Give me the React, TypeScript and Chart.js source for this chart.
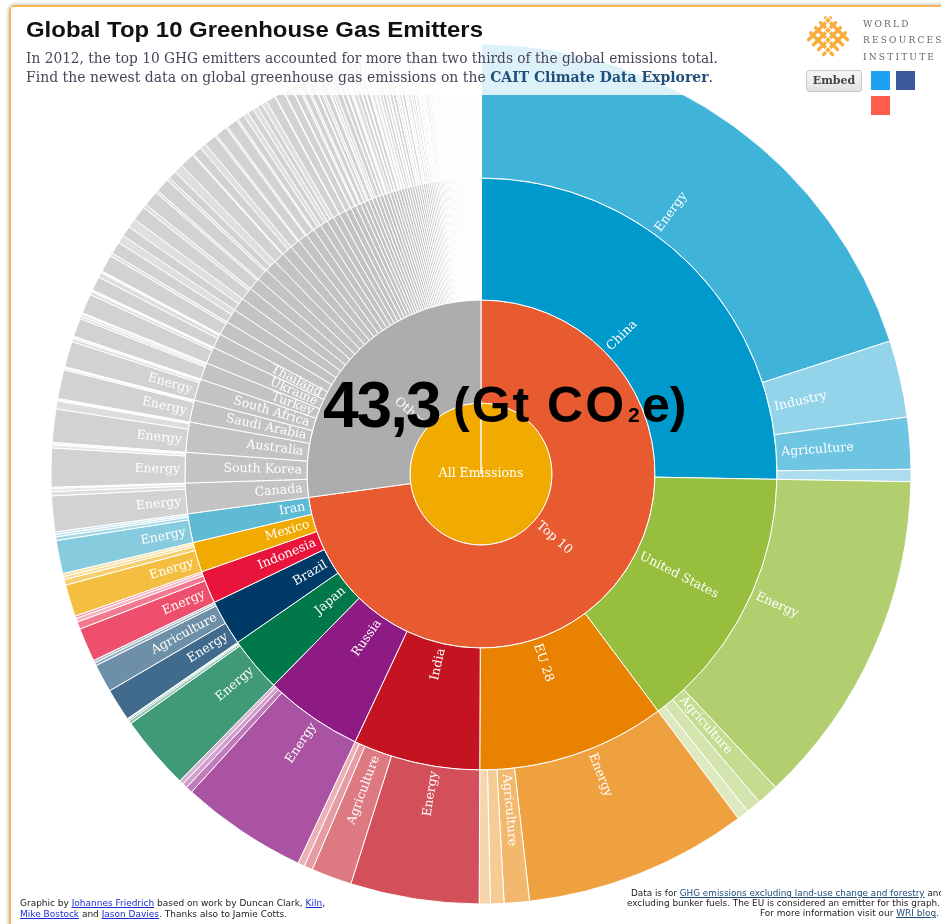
import React, { useEffect, useLayoutEffect, useRef } from "react";
import { Chart, registerables } from "chart.js";

Chart.register(...registerables);

// ---------------- DATA (Gt CO2e, 2012) ----------------
const topCountries = ["China", "United States", "EU 28", "India", "Russia", "Japan", "Brazil", "Indonesia", "Mexico", "Iran"];
const topColors = ["#0099cc", "#97bf3d", "#e98200", "#c41421", "#8e1a84", "#00784a", "#003a66", "#e8143c", "#f0aa00", "#5fbad4"];
const topSectors: [string, number][][] = [
  [["Energy", 8.66], ["Industry", 1.25], ["Agriculture", 0.84], ["Waste", 0.2]],
  [["Energy", 5.5], ["Agriculture", 0.35], ["Industry", 0.24], ["Waste", 0.19]],
  [["Energy", 3.64], ["Agriculture", 0.41], ["Industry", 0.22], ["Waste", 0.18]],
  [["Energy", 2.09], ["Agriculture", 0.66], ["Industry", 0.14], ["Waste", 0.11]],
  [["Energy", 2.06], ["Agriculture", 0.11], ["Industry", 0.08], ["Waste", 0.07]],
  [["Energy", 1.21], ["Industry", 0.05], ["Agriculture", 0.025], ["Waste", 0.02]],
  [["Energy", 0.53], ["Agriculture", 0.46], ["Industry", 0.05], ["Waste", 0.04]],
  [["Energy", 0.55], ["Agriculture", 0.12], ["Waste", 0.06], ["Industry", 0.04]],
  [["Energy", 0.52], ["Agriculture", 0.09], ["Industry", 0.05], ["Waste", 0.05]],
  [["Energy", 0.54], ["Agriculture", 0.06], ["Industry", 0.04], ["Waste", 0.04]],
];

const otherNamed = ["Canada", "South Korea", "Australia", "Saudi Arabia", "South Africa", "Turkey", "Ukraine", "Thailand"];
const otherNamedSectors: [string, number][][] = [
  [["Energy", 0.58], ["Agriculture", 0.07], ["Industry", 0.05], ["Waste", 0.02]],
  [["Energy", 0.63], ["Industry", 0.05], ["Agriculture", 0.02], ["Waste", 0.02]],
  [["Energy", 0.54], ["Agriculture", 0.13], ["Industry", 0.02], ["Waste", 0.02]],
  [["Energy", 0.47], ["Industry", 0.03], ["Waste", 0.015], ["Agriculture", 0.005]],
  [["Energy", 0.42], ["Agriculture", 0.05], ["Industry", 0.025], ["Waste", 0.015]],
  [["Energy", 0.3], ["Agriculture", 0.04], ["Industry", 0.04], ["Waste", 0.02]],
  [["Energy", 0.32], ["Agriculture", 0.05], ["Industry", 0.02], ["Waste", 0.01]],
  [["Energy", 0.23], ["Agriculture", 0.08], ["Industry", 0.02], ["Waste", 0.01]],
];

// [country, energy, other sectors]
const smallCountries: [string, number, number][] = [
  ["Kazakhstan", 0.28, 0.05], ["Argentina", 0.2, 0.13], ["Pakistan", 0.17, 0.15], ["Egypt", 0.24, 0.06],
  ["Malaysia", 0.25, 0.04], ["Venezuela", 0.23, 0.05], ["Nigeria", 0.13, 0.15], ["United Arab Emirates", 0.24, 0.02],
  ["Vietnam", 0.15, 0.1], ["Uzbekistan", 0.2, 0.03], ["Algeria", 0.19, 0.03], ["Iraq", 0.18, 0.03],
  ["Philippines", 0.11, 0.08], ["Colombia", 0.1, 0.08], ["Bangladesh", 0.08, 0.09], ["Kuwait", 0.15, 0.01],
  ["Qatar", 0.15, 0.01], ["Turkmenistan", 0.13, 0.01], ["Chile", 0.1, 0.03], ["Belarus", 0.09, 0.03],
  ["Libya", 0.09, 0.01], ["Peru", 0.06, 0.04], ["Israel", 0.08, 0.015], ["New Zealand", 0.035, 0.055],
  ["Oman", 0.085, 0.005], ["Syria", 0.07, 0.015], ["Morocco", 0.06, 0.025], ["Ethiopia", 0.01, 0.07],
  ["Serbia", 0.06, 0.015], ["Norway", 0.055, 0.015], ["North Korea", 0.06, 0.01], ["Myanmar", 0.02, 0.048],
  ["Sudan", 0.02, 0.046], ["Tanzania", 0.01, 0.054], ["Switzerland", 0.05, 0.012], ["Ecuador", 0.04, 0.02],
  ["Azerbaijan", 0.05, 0.008], ["Singapore", 0.052, 0.004], ["Angola", 0.03, 0.024], ["Cuba", 0.035, 0.017],
  ["Trinidad and Tobago", 0.045, 0.005], ["Bolivia", 0.02, 0.028], ["DR Congo", 0.005, 0.042], ["Kenya", 0.012, 0.033],
  ["Tunisia", 0.033, 0.01], ["Paraguay", 0.006, 0.035], ["Mongolia", 0.02, 0.019], ["Dominican Republic", 0.025, 0.012],
  ["Sri Lanka", 0.018, 0.017], ["Uruguay", 0.008, 0.026], ["Bahrain", 0.028, 0.002], ["Bosnia and Herzegovina", 0.024, 0.005],
  ["Jordan", 0.024, 0.004], ["Yemen", 0.022, 0.005], ["Zimbabwe", 0.013, 0.014], ["Guatemala", 0.013, 0.013],
  ["Cameroon", 0.007, 0.019], ["Ghana", 0.012, 0.013], ["Lebanon", 0.021, 0.003], ["Côte d'Ivoire", 0.009, 0.014],
  ["Mozambique", 0.005, 0.017], ["Uganda", 0.004, 0.018], ["Nepal", 0.005, 0.016], ["Zambia", 0.004, 0.017],
  ["Madagascar", 0.003, 0.017], ["Mali", 0.002, 0.018], ["Chad", 0.001, 0.018], ["Niger", 0.002, 0.017],
  ["Burkina Faso", 0.002, 0.016], ["Afghanistan", 0.008, 0.01], ["Honduras", 0.008, 0.009], ["Senegal", 0.007, 0.01],
  ["Cambodia", 0.005, 0.011], ["Gabon", 0.01, 0.006], ["Botswana", 0.008, 0.007], ["Panama", 0.01, 0.005],
  ["Costa Rica", 0.008, 0.006], ["Brunei", 0.013, 0.001], ["El Salvador", 0.007, 0.006], ["Namibia", 0.004, 0.009],
  ["Nicaragua", 0.005, 0.007], ["Georgia", 0.008, 0.004], ["Kyrgyzstan", 0.008, 0.004], ["Tajikistan", 0.006, 0.005],
  ["Jamaica", 0.009, 0.002], ["Armenia", 0.007, 0.004], ["Laos", 0.003, 0.007], ["Papua New Guinea", 0.006, 0.004],
  ["Rwanda", 0.001, 0.009], ["Benin", 0.004, 0.006], ["Moldova", 0.006, 0.003], ["Macedonia", 0.007, 0.002],
  ["Albania", 0.004, 0.005], ["Guinea", 0.002, 0.007], ["Malawi", 0.001, 0.008], ["Haiti", 0.003, 0.006],
  ["Somalia", 0.001, 0.008], ["Togo", 0.002, 0.006], ["Mauritania", 0.002, 0.006], ["Congo", 0.004, 0.004],
  ["Equatorial Guinea", 0.01, 0.002], ["Eritrea", 0.003, 0.005], ["Burundi", 0.001, 0.007], ["Sierra Leone", 0.002, 0.006],
  ["Liberia", 0.002, 0.005], ["Central African Republic", 0.001, 0.006], ["Montenegro", 0.005, 0.002], ["Guyana", 0.003, 0.004],
  ["Swaziland", 0.002, 0.004], ["Lesotho", 0.002, 0.004], ["Suriname", 0.004, 0.002], ["Fiji", 0.003, 0.003],
  ["Mauritius", 0.005, 0.001], ["Iceland", 0.004, 0.002], ["Bahamas", 0.004, 0.001], ["Barbados", 0.004, 0.001],
  ["Gambia", 0.001, 0.004], ["Bhutan", 0.002, 0.003], ["Djibouti", 0.002, 0.003], ["Guinea-Bissau", 0.001, 0.004],
  ["Timor-Leste", 0.002, 0.002], ["Belize", 0.002, 0.002], ["Maldives", 0.003, 0.001], ["Solomon Islands", 0.002, 0.001],
  ["Cabo Verde", 0.002, 0.001], ["Comoros", 0.001, 0.002], ["Seychelles", 0.002, 0.001], ["Samoa", 0.001, 0.001],
  ["Vanuatu", 0.001, 0.001], ["Antigua and Barbuda", 0.0015, 0.0005], ["Saint Lucia", 0.0015, 0.0005], ["Grenada", 0.0015, 0.0005],
  ["Tonga", 0.001, 0.001], ["São Tomé and Príncipe", 0.001, 0.001], ["Dominica", 0.0007, 0.0003], ["Saint Kitts and Nevis", 0.0007, 0.0003],
  ["Saint Vincent", 0.0007, 0.0003], ["Kiribati", 0.0007, 0.0003], ["Micronesia", 0.0007, 0.0003], ["Palau", 0.0007, 0.0003],
  ["Marshall Islands", 0.0007, 0.0003], ["Tuvalu", 0.0004, 0.0001], ["Nauru", 0.0004, 0.0001], ["Niue", 0.0002, 0.0001],
  ["Cook Islands", 0.0002, 0.0001],
];

const rootLabel = "All Emissions";
const groupLabels = ["Top 10", "Other"];

// ---------------- STYLE ----------------
const allColor = "#f0aa00";
const groupColors = ["#e85b30", "#adadad"];
const otherGrey = "#c3c3c3";
const sectorTint: Record<string, number> = { Energy: 0.25, Industry: 0.58, Agriculture: 0.43, Waste: 0.67, "Other sectors": 0.47 };

function tint(hex: string, t: number) {
  const n = parseInt(hex.slice(1), 16);
  const f = (c: number) => Math.round(c + (255 - c) * t);
  return `rgb(${f((n >> 16) & 255)},${f((n >> 8) & 255)},${f(n & 255)})`;
}

const MIN_LABEL_ANGLE = (2.79 * Math.PI) / 180;

const labelPlugin = {
  id: "sunLabels",
  afterDatasetsDraw(chart: any) {
    const ctx = chart.ctx;
    chart.data.datasets.forEach((ds: any, di: number) => {
      const meta = chart.getDatasetMeta(di);
      const names: (string | null)[] = ds.arcLabels || [];
      meta.data.forEach((arc: any, i: number) => {
        const name = names[i];
        if (!name) return;
        const p = arc.getProps(["x", "y", "startAngle", "endAngle", "innerRadius", "outerRadius"], true);
        ctx.save();
        ctx.fillStyle = "#ffffff";
        ctx.font = '12.5px "DejaVu Serif", Georgia, serif';
        ctx.textBaseline = "middle";
        if (p.innerRadius < 1) {
          ctx.textAlign = "center";
          ctx.fillText(name, p.x, p.y);
          ctx.restore();
          return;
        }
        if (p.endAngle - p.startAngle < MIN_LABEL_ANGLE) {
          ctx.restore();
          return;
        }
        const mid = (p.startAngle + p.endAngle) / 2;
        ctx.translate(p.x, p.y);
        if (Math.cos(mid) >= 0) {
          ctx.rotate(mid);
          ctx.textAlign = "left";
          ctx.fillText(name, p.innerRadius + 5, 0);
        } else {
          ctx.rotate(mid + Math.PI);
          ctx.textAlign = "right";
          ctx.fillText(name, -(p.innerRadius + 5), 0);
        }
        ctx.restore();
      });
    });
  },
};

function Fit(props: { x: number; y: number; w: number; style?: any; children: any }) {
  const ref = useRef<HTMLDivElement>(null);
  useLayoutEffect(() => {
    const el = ref.current;
    if (!el) return;
    el.style.transform = "none";
    const actual = el.getBoundingClientRect().width;
    if (actual > 0) el.style.transform = `scaleX(${props.w / actual})`;
  });
  return (
    <div
      ref={ref}
      style={{
        position: "absolute",
        left: props.x,
        top: props.y,
        whiteSpace: "nowrap",
        transformOrigin: "0 0",
        ...props.style,
      }}
    >
      {props.children}
    </div>
  );
}

function Sunburst() {
  const canvasRef = useRef<HTMLCanvasElement>(null);
  useEffect(() => {
    const outerData: number[] = [];
    const outerColors: string[] = [];
    const outerLabels: (string | null)[] = [];
    const midData: number[] = [];
    const midColors: string[] = [];
    const midLabels: string[] = [];

    let topTotal = 0;
    topCountries.forEach((c, i) => {
      let sum = 0;
      topSectors[i].forEach(([s, v]) => {
        outerData.push(v);
        outerColors.push(tint(topColors[i], sectorTint[s]));
        outerLabels.push(s);
        sum += v;
      });
      midData.push(sum);
      midColors.push(topColors[i]);
      midLabels.push(c);
      topTotal += sum;
    });
    let otherTotal = 0;
    otherNamed.forEach((c, i) => {
      let sum = 0;
      otherNamedSectors[i].forEach(([s, v]) => {
        outerData.push(v);
        outerColors.push(tint(otherGrey, sectorTint[s]));
        outerLabels.push(s);
        sum += v;
      });
      midData.push(sum);
      midColors.push(otherGrey);
      midLabels.push(c);
      otherTotal += sum;
    });
    smallCountries.forEach(([c, e, o]) => {
      outerData.push(e, o);
      outerColors.push(tint(otherGrey, sectorTint.Energy), tint(otherGrey, sectorTint["Other sectors"]));
      outerLabels.push("Energy", "Other sectors");
      midData.push(e + o);
      midColors.push(otherGrey);
      midLabels.push(c);
      otherTotal += e + o;
    });

    const common = { borderColor: "#ffffff", borderWidth: 1 };
    const chart = new Chart(canvasRef.current as HTMLCanvasElement, {
      type: "doughnut",
      data: {
        labels: midLabels,
        datasets: [
          { data: outerData, backgroundColor: outerColors, weight: 134, arcLabels: outerLabels, ...common } as any,
          { data: midData, backgroundColor: midColors, weight: 122, arcLabels: midLabels, ...common } as any,
          { data: [topTotal, otherTotal], backgroundColor: groupColors, weight: 103, arcLabels: groupLabels, ...common } as any,
          { data: [topTotal + otherTotal], backgroundColor: [allColor], weight: 71, arcLabels: [rootLabel], ...common } as any,
        ],
      },
      options: {
        responsive: false,
        animation: false,
        events: [],
        cutout: 0,
        radius: 430,
        layout: { padding: 0 },
        plugins: { legend: { display: false }, tooltip: { enabled: false } },
      } as any,
      plugins: [labelPlugin],
    });
    return () => chart.destroy();
  }, []);
  return <canvas ref={canvasRef} width={900} height={900} style={{ position: "absolute", left: 31, top: 24 }} />;
}

function WriLogo() {
  const lines = [13, 20, 27, 34];
  return (
    <svg width={52} height={52} style={{ position: "absolute", left: 802, top: 12 }}>
      <g transform="rotate(45 26 26)" stroke="#f7ad3c" strokeWidth={3.4} fill="none" strokeLinecap="round">
        {lines.map((p) => (
          <line key={"h" + p} x1={10} y1={p + 0.5} x2={41} y2={p + 0.5} />
        ))}
        {lines.map((p) => (
          <line key={"v" + p} x1={p + 0.5} y1={10} x2={p + 0.5} y2={41} />
        ))}
      </g>
      <g transform="rotate(45 26 26)" stroke="#ffffff" strokeWidth={1} fill="none">
        {lines.map((p) => (
          <rect key={"r" + p} x={p - 2} y={p - 2} width={5} height={5} />
        ))}
      </g>
    </svg>
  );
}

export default function App() {
  const serif = '"DejaVu Serif", Georgia, serif';
  const sans = '"Liberation Sans", Arial, sans-serif';
  const subColor = "#4a4459";
  const small = '8px "DejaVu Sans", sans-serif';
  return (
    <div style={{ position: "fixed", left: 0, top: 0, width: 941, height: 924, overflow: "hidden", background: "#fff" }}>
      <div
        style={{
          position: "absolute",
          left: 9,
          top: 5,
          width: 1000,
          height: 1000,
          border: "2px solid #f5b555",
          borderRadius: 6,
          boxShadow: "0 0 4px rgba(0,0,0,0.35)",
          background: "#fff",
        }}
      />
      <Sunburst />
      <div style={{ position: "absolute", left: 11, top: 7, width: 1000, height: 88, background: "rgba(255,255,255,0.82)" }} />

      <Fit x={26} y={18.8} w={457} style={{ font: `bold 22px ${sans}`, lineHeight: "22px", color: "#111" }}>
        Global Top 10 Greenhouse Gas Emitters
      </Fit>
      <Fit x={26} y={51} w={692} style={{ font: `14px ${serif}`, lineHeight: "14px", color: subColor }}>
        In 2012, the top 10 GHG emitters accounted for more than two thirds of the global emissions total.
      </Fit>
      <Fit x={26} y={69.5} w={687} style={{ font: `14px ${serif}`, lineHeight: "14px", color: subColor }}>
        Find the newest data on global greenhouse gas emissions on the{" "}
        <span style={{ fontWeight: "bold", color: "#1f4f7a" }}>CAIT Climate Data Explorer</span>.
      </Fit>

      <WriLogo />
      <div style={{ position: "absolute", left: 863, top: 19.8, font: `9px ${serif}`, lineHeight: "9px", letterSpacing: 2.2, color: "#666" }}>WORLD</div>
      <div style={{ position: "absolute", left: 863, top: 36.3, font: `9px ${serif}`, lineHeight: "9px", letterSpacing: 2.2, color: "#666" }}>RESOURCES</div>
      <div style={{ position: "absolute", left: 863, top: 52.8, font: `9px ${serif}`, lineHeight: "9px", letterSpacing: 2.2, color: "#666" }}>INSTITUTE</div>
      <div
        style={{
          position: "absolute",
          left: 806,
          top: 70,
          width: 54,
          height: 20,
          border: "1px solid #c8c8c8",
          borderRadius: 3,
          background: "linear-gradient(#f7f7f7, #e2e2e2)",
          font: `bold 11px ${serif}`,
          lineHeight: "20px",
          textAlign: "center",
          color: "#444",
        }}
      >
        Embed
      </div>
      <div style={{ position: "absolute", left: 871, top: 71, width: 19, height: 19, background: "#1da1f2" }} />
      <div style={{ position: "absolute", left: 896, top: 71, width: 19, height: 19, background: "#3b5998" }} />
      <div style={{ position: "absolute", left: 871, top: 96, width: 19, height: 19, background: "#ff5e4d" }} />

      <div style={{ position: "absolute", left: 323, top: 372.8, font: `bold 64px ${sans}`, lineHeight: "64px", letterSpacing: -2, color: "#000" }}>43,3</div>
      <div style={{ position: "absolute", left: 453, top: 379.6, font: `bold 50px ${sans}`, lineHeight: "50px", letterSpacing: 2, color: "#000" }}>(Gt CO</div>
      <div style={{ position: "absolute", left: 628, top: 404, font: `bold 21px ${sans}`, lineHeight: "21px", color: "#000" }}>2</div>
      <div style={{ position: "absolute", left: 642, top: 379.6, font: `bold 50px ${sans}`, lineHeight: "50px", color: "#000" }}>e)</div>

      <Fit x={20} y={900} w={305} style={{ font: small, lineHeight: "8px", color: "#222" }}>
        Graphic by <span style={{ color: "#1a2fd0", textDecoration: "underline" }}>Johannes Friedrich</span> based on work by Duncan Clark,{" "}
        <span style={{ color: "#1a2fd0", textDecoration: "underline" }}>Kiln</span>,
      </Fit>
      <Fit x={20} y={911} w={267} style={{ font: small, lineHeight: "8px", color: "#222" }}>
        <span style={{ color: "#1a2fd0", textDecoration: "underline" }}>Mike Bostock</span> and{" "}
        <span style={{ color: "#1a2fd0", textDecoration: "underline" }}>Jason Davies</span>. Thanks also to Jamie Cotts.
      </Fit>

      <Fit x={631} y={890} w={313} style={{ font: small, lineHeight: "8px", color: "#222" }}>
        Data is for <span style={{ color: "#1c4d78", textDecoration: "underline" }}>GHG emissions excluding land-use change and forestry</span> and
      </Fit>
      <Fit x={627} y={900} w={313} style={{ font: small, lineHeight: "8px", color: "#222" }}>
        excluding bunker fuels. The EU is considered an emitter for this graph.
      </Fit>
      <Fit x={760} y={910} w={179} style={{ font: small, lineHeight: "8px", color: "#222" }}>
        For more information visit our <span style={{ color: "#1c4d78", textDecoration: "underline" }}>WRI blog</span>.
      </Fit>
    </div>
  );
}
